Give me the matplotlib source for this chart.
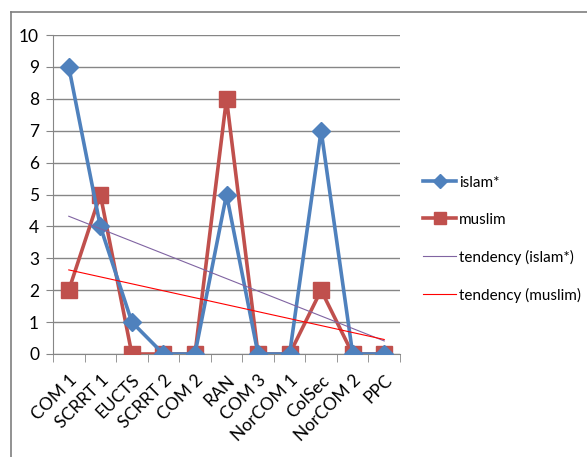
import numpy as np
import matplotlib
matplotlib.use("Agg")
import matplotlib.pyplot as plt
from matplotlib.lines import Line2D

plt.rcParams['font.family'] = ['Lato', 'Liberation Sans', 'DejaVu Sans']

# Chart data
categories = ["COM 1", "SCRRT 1", "EUCTS", "SCRRT 2", "COM 2", "RAN",
              "COM 3", "NorCOM 1", "ColSec", "NorCOM 2", "PPC"]
islam = [9, 4, 1, 0, 0, 5, 0, 0, 7, 0, 0]
muslim = [2, 5, 0, 0, 0, 8, 0, 0, 2, 0, 0]

blue = '#4F81BD'
red = '#C0504D'
grid_col = '#868686'

x = np.arange(1, len(categories) + 1)

fig = plt.figure(figsize=(5.87, 4.57), dpi=100)
ax = fig.add_axes([53 / 587, 1 - 354 / 457, 347 / 587, 319 / 457])

# linear trend lines (least squares, like Excel)
p_islam = np.polyfit(x, islam, 1)
p_muslim = np.polyfit(x, muslim, 1)

ax.plot(x, islam, color=blue, lw=2.6, marker='D', markersize=9.5,
        markerfacecolor=blue, markeredgecolor=blue, zorder=4)
ax.plot(x, muslim, color=red, lw=2.6, marker='s', markersize=11,
        markerfacecolor=red, markeredgecolor=red, zorder=3)
ax.plot(x, np.polyval(p_islam, x), color='#8064A2', lw=0.8, zorder=5)
ax.plot(x, np.polyval(p_muslim, x), color='#FF0000', lw=0.8, zorder=5)

ax.set_xlim(0.5, len(categories) + 0.5)
ax.set_ylim(0, 10)
ax.set_yticks(range(0, 11))
ax.set_xticks(x)
ax.set_xticklabels(categories, rotation=45, ha='right', rotation_mode='anchor',
                   fontsize=12.5)
ax.set_xticks(np.arange(0.5, len(categories) + 1), minor=True)
ax.tick_params(axis='x', which='major', length=0, pad=13)
ax.tick_params(axis='x', which='minor', length=6, color=grid_col, direction='out')
ax.tick_params(axis='y', length=5, color=grid_col, labelsize=12.5, pad=5)
ax.grid(axis='y', color=grid_col, lw=1)
ax.set_axisbelow(True)
for s in ['top', 'right']:
    ax.spines[s].set_visible(False)
for s in ['left', 'bottom']:
    ax.spines[s].set_color(grid_col)

handles = [
    Line2D([], [], color=blue, lw=2.6, marker='D', markersize=7),
    Line2D([], [], color=red, lw=2.6, marker='s', markersize=9),
    Line2D([], [], color='#8064A2', lw=0.8),
    Line2D([], [], color='#FF0000', lw=0.8),
]
labels = ["islam*", "muslim", "tendency (islam*)", "tendency (muslim)"]
fig.legend(handles, labels, loc='upper left', bbox_to_anchor=(409 / 587, 1 - 162 / 457),
           frameon=False, fontsize=11, handlelength=2.2, handletextpad=0.15,
           labelspacing=1.5)

# outer chart frame (cut by image edge)
fig.add_artist(Line2D([11 / 587, 11 / 587], [0, 1 - 12 / 457], color='#7F7F7F', lw=1.2))
fig.add_artist(Line2D([11 / 587, 1], [1 - 12 / 457, 1 - 12 / 457], color='#7F7F7F', lw=1.2))

fig.savefig("out.png", dpi=100)
